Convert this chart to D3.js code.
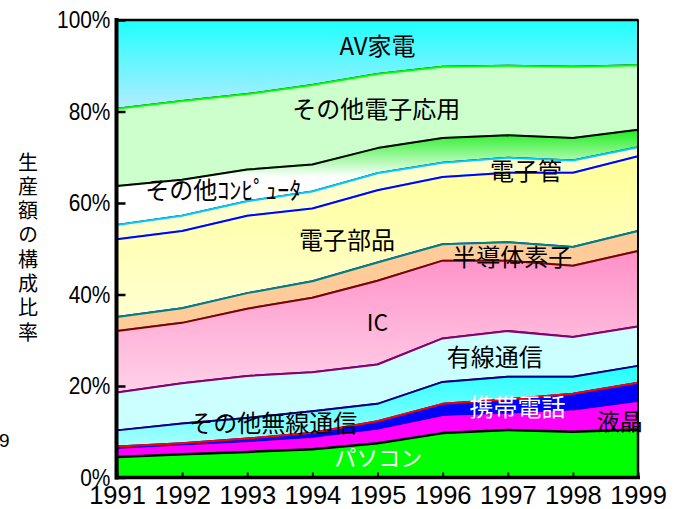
<!DOCTYPE html>
<html>
<head>
<meta charset="utf-8">
<script src="https://cdn.jsdelivr.net/npm/d3@7"></script>
<style>
  body { margin: 0; background: #fff; }
  svg { display: block; }
</style>
</head>
<body>
<svg id="chart" width="677" height="509"></svg>
<script>
// Production share by category (%), 1991–1999, bottom layer first
const years = [1991, 1992, 1993, 1994, 1995, 1996, 1997, 1998, 1999];
const pc             = [4.5, 5.1, 5.6, 6.2, 7.5, 9.7, 10.4, 10.0, 10.5];
const lcd            = [1.5, 1.7, 1.9, 2.2, 2.7, 3.5, 3.3, 4.4, 5.8];
const mobile         = [0.8, 0.7, 1.0, 1.4, 2.1, 2.9, 3.4, 3.9, 4.4];
const otherWireless  = [3.5, 4.3, 4.5, 4.7, 3.8, 4.8, 4.9, 3.7, 3.7];
const wired          = [8.3, 8.8, 9.2, 8.5, 8.6, 9.5, 10.0, 8.7, 8.6];
const ic             = [13.4, 13.2, 14.7, 16.3, 18.3, 17.0, 15.4, 15.6, 16.5];
const discrete       = [3.1, 3.2, 3.4, 3.6, 4.0, 3.6, 4.0, 4.1, 4.4];
const components     = [17.0, 16.9, 16.9, 15.9, 15.8, 14.7, 15.2, 16.2, 16.3];
const tubes          = [3.1, 3.3, 3.2, 3.7, 3.7, 3.1, 3.3, 2.7, 2.0];
const otherComputers = [8.5, 7.9, 6.9, 5.9, 5.5, 5.4, 4.9, 4.9, 3.8];
const otherApplied   = [16.9, 17.2, 16.5, 17.4, 16.2, 15.6, 15.2, 15.6, 14.1];
const avHome         = [19.4, 17.7, 16.2, 14.2, 11.8, 10.2, 10.0, 10.2, 9.9];

const categories = ["パソコン", "液晶", "携帯電話", "その他無線通信", "有線通信", "IC",
  "半導体素子", "電子部品", "電子管", "その他コンピュータ", "その他電子応用", "AV家電"];
const seriesValues = [pc, lcd, mobile, otherWireless, wired, ic, discrete,
  components, tubes, otherComputers, otherApplied, avHome];
const yTicks = [0, 20, 40, 60, 80, 100];
const yAxisTitle = "生産額の構成比率";

// Fill and edge styles per layer (same order as categories)
const fills = ["#00ff00", "#ff00ff", "#0000ff", "url(#gWireless)", "#ccffff", "url(#gIC)",
  "#ffcc99", "url(#gParts)", "#ffffcc", "url(#gComputer)", "#ccffcc", "url(#gAV)"];
const edges = ["#000000", "#ff00ff", "#ff0000", "#000080", "#800080", "#800000",
  "#008080", "#0000ff", "#00ccff", "#000000", "#00ff00", "#000000"];

// In-chart labels placed in data space (year, percent)
const labels = [
  { text: "AV家電", year: 1995.0, pct: 94.3, color: "#000", size: 24 },
  { text: "その他電子応用", year: 1994.98, pct: 80.5, color: "#000", size: 24 },
  { text: "その他ｺﾝﾋﾟｭｰﾀ", year: 1992.63, pct: 62.8, color: "#000", size: 24 },
  { text: "電子管", year: 1997.28, pct: 67.0, color: "#000", size: 24 },
  { text: "電子部品", year: 1994.53, pct: 51.9, color: "#000", size: 24 },
  { text: "半導体素子", year: 1997.07, pct: 48.2, color: "#000", size: 24 },
  { text: "IC", year: 1995.0, pct: 33.8, color: "#000", size: 23 },
  { text: "有線通信", year: 1996.8, pct: 26.3, color: "#000", size: 24 },
  { text: "携帯電話", year: 1997.15, pct: 15.4, color: "#fff", size: 24 },
  { text: "液晶", year: 1998.72, pct: 12.1, color: "#000", size: 23 },
  { text: "その他無線通信", year: 1993.4, pct: 11.9, color: "#000", size: 24 },
  { text: "パソコン", year: 1995.01, pct: 4.3, color: "#fff", size: 22 }
];

const keys = categories;
const rows = years.map((yr, i) => {
  const r = { year: yr };
  keys.forEach((k, j) => { r[k] = seriesValues[j][i]; });
  return r;
});

const svg = d3.select("#chart");
const plotLeft = 117, plotRight = 638, plotTop = 20, plotBottom = 477.5;
const x = d3.scaleLinear().domain([1991, 1999]).range([plotLeft, plotRight]);
const y = d3.scaleLinear().domain([0, 100]).range([plotBottom, plotTop]);

// Gradients (vertical, over each layer's bounding box)
const defs = svg.append("defs");
function vGrad(id, stops) {
  const g = defs.append("linearGradient").attr("id", id)
    .attr("x1", 0).attr("y1", 0).attr("x2", 0).attr("y2", 1);
  stops.forEach(([o, c]) => g.append("stop").attr("offset", o).attr("stop-color", c));
}
vGrad("gAV", [["0%", "#1effff"], ["100%", "#b4ecff"]]);
vGrad("gComputer", [["0%", "#1cee1c"], ["50%", "#ffffff"], ["100%", "#ffffff"]]);
vGrad("gParts", [["0%", "#ffff99"], ["100%", "#ffffd2"]]);
vGrad("gIC", [["0%", "#ff90c8"], ["100%", "#ffd2e8"]]);
vGrad("gWireless", [["0%", "#22ffff"], ["100%", "#a8ffff"]]);

const stacked = d3.stack().keys(keys)(rows);
const area = d3.area()
  .x(d => x(d.data.year))
  .y0(d => y(d[0]))
  .y1(d => y(d[1]));

// Draw top layer first so each layer's upper edge stays on top of the one above
const layerOrder = d3.range(stacked.length).reverse();
svg.append("g").selectAll("path")
  .data(layerOrder.map(i => stacked[i]))
  .join("path")
  .attr("d", area)
  .attr("fill", d => fills[d.index])
  .attr("stroke", d => edges[d.index])
  .attr("stroke-width", d => d.index === 0 ? 2.5 : 2)
  .attr("stroke-linejoin", "round");

// Frame: top and right borders
svg.append("line").attr("x1", plotLeft).attr("x2", plotRight).attr("y1", plotTop).attr("y2", plotTop)
  .attr("stroke", "#000").attr("stroke-width", 2.5);
svg.append("line").attr("x1", plotRight).attr("x2", plotRight).attr("y1", plotTop).attr("y2", plotBottom)
  .attr("stroke", "#000").attr("stroke-width", 2);

// Y axis with inside ticks
const yAxis = svg.append("g").attr("transform", `translate(${plotLeft - 0.5},0)`)
  .call(d3.axisLeft(y).tickValues(yTicks).tickFormat(d => d + "%")
    .tickSizeInner(-9).tickSizeOuter(0).tickPadding(7));
yAxis.select(".domain").attr("stroke", "#000").attr("stroke-width", 4)
  .attr("d", `M0,${plotTop - 2}V${plotBottom + 2}`);
yAxis.selectAll(".tick line").attr("stroke", "#000").attr("stroke-width", 2.5);
yAxis.selectAll(".tick text")
  .attr("font-family", "'Liberation Sans', Arial, sans-serif")
  .attr("font-size", 24).attr("fill", "#000")
  .attr("transform", "scale(0.87,1)");

// X axis
const xAxis = svg.append("g").attr("transform", `translate(0,${plotBottom})`)
  .call(d3.axisBottom(x).tickValues(years).tickFormat(d3.format("d"))
    .tickSizeInner(-5).tickSizeOuter(0).tickPadding(7.9));
xAxis.select(".domain").attr("stroke", "#000").attr("stroke-width", 3.5)
  .attr("d", `M${plotLeft - 2},0H${plotRight + 2}`);
xAxis.selectAll(".tick line").attr("stroke", "#000").attr("stroke-width", 2);
xAxis.selectAll(".tick text")
  .attr("font-family", "'Liberation Sans', Arial, sans-serif")
  .attr("font-size", 25.5).attr("fill", "#000");

// Vertical axis title set in vertical writing mode
svg.append("text")
  .attr("x", 28)
  .attr("y", 152)
  .attr("writing-mode", "vertical-rl")
  .attr("letter-spacing", 4.3)
  .attr("font-family", "'Noto Sans CJK JP', sans-serif")
  .attr("font-size", 20)
  .attr("fill", "#000")
  .text(yAxisTitle);

// Stray year digit at the left margin
svg.append("text").attr("x", -1).attr("y", 447)
  .attr("font-family", "'Liberation Sans', Arial, sans-serif")
  .attr("font-size", 19).attr("fill", "#000").text("9");

// Layer labels
svg.append("g").selectAll("text")
  .data(labels)
  .join("text")
  .attr("x", d => x(d.year))
  .attr("y", d => y(d.pct))
  .attr("dy", "0.36em")
  .attr("text-anchor", "middle")
  .attr("font-family", "'Noto Sans CJK JP', sans-serif")
  .attr("font-size", d => d.size)
  .attr("fill", d => d.color)
  .text(d => d.text);
</script>
</body>
</html>
